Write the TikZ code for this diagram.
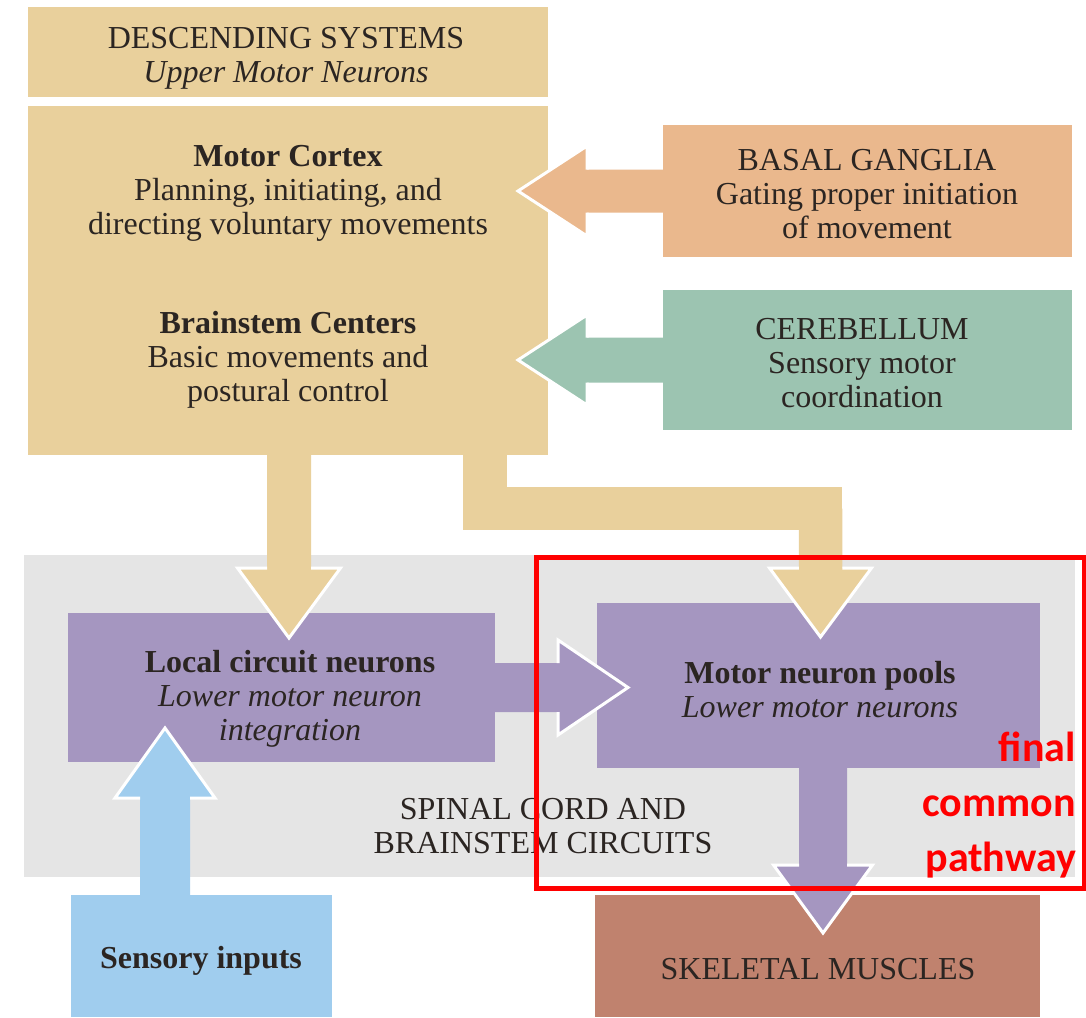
\documentclass[tikz,border=0pt]{standalone}
\usepackage{fontspec}
\setmainfont{Liberation Serif}
\newfontfamily\notefont{Carlito}
\usetikzlibrary{calc}

\definecolor{descfill}{HTML}{E9D09C}
\definecolor{basalfill}{HTML}{EAB88D}
\definecolor{cerebfill}{HTML}{9CC4B1}
\definecolor{spinalfill}{HTML}{E5E5E5}
\definecolor{neuronfill}{HTML}{A596C0}
\definecolor{sensefill}{HTML}{A0CDEE}
\definecolor{musclefill}{HTML}{C0826E}
\definecolor{ink}{HTML}{2B2522}
\definecolor{notered}{HTML}{FF0000}

% Broad block arrow from #1 (tail) to #2 (tip), colour #3,
% shaft half-width #4, head half-width #5, head length #6 (all in pt)
\newcommand\fatarrow[6]{%
  \path let \p1=(#1), \p2=(#2) in \pgfextra{%
    \pgfmathsetmacro\arrlen{veclen(\x2-\x1,\y2-\y1)}%
    \pgfmathsetmacro\arrang{atan2(\y2-\y1,\x2-\x1)}%
    \global\let\arrlen\arrlen\global\let\arrang\arrang};
  \begin{scope}[shift={(#1)}, rotate=\arrang, x=1pt, y=1pt]
    \fill[#3] (0,-#4) -- ({\arrlen-#6},-#4) -- ({\arrlen-#6},-#5) -- (\arrlen,0)
      -- ({\arrlen-#6},#5) -- ({\arrlen-#6},#4) -- (0,#4) -- cycle;
    \draw[arrowrim] ({\arrlen-#6},-#4) -- ({\arrlen-#6},-#5) -- (\arrlen,0)
      -- ({\arrlen-#6},#5) -- ({\arrlen-#6},#4);
  \end{scope}}

\tikzset{
  panel/.style={rectangle, inner sep=0pt, outer sep=0pt, draw=none},
  caption/.style={inner sep=0pt, outer sep=0pt, align=center, text=ink,
    font=\fontsize{32}{34}\selectfont},
  arrowrim/.style={draw=white, line width=3pt, line join=miter, line cap=butt},
}

\begin{document}
\begin{tikzpicture}[x=1pt, y=-1pt]
\useasboundingbox (0,0) rectangle (1086,1017);
\fill[white] (0,0) rectangle (1086,1017);

% spinal cord / brainstem region
\node[panel, fill=spinalfill, minimum width=1051pt, minimum height=322pt] (spinal) at (549.5,716) {};

% upper motor neuron blocks
\node[panel, fill=descfill, minimum width=520pt, minimum height=90pt] (desc) at (288,52) {};
\node[panel, fill=descfill, minimum width=520pt, minimum height=349pt] (brain) at (288,280.5) {};
\node[panel, fill=basalfill, minimum width=409pt, minimum height=132pt] (basal) at (867.5,191) {};
\node[panel, fill=cerebfill, minimum width=409pt, minimum height=140pt] (cereb) at (867.5,360) {};

% lower motor neuron blocks
\node[panel, fill=neuronfill, minimum width=427pt, minimum height=149pt] (local) at (281.5,687.5) {};
\node[panel, fill=neuronfill, minimum width=443pt, minimum height=165pt] (motor) at (818.5,685.5) {};

% inputs and effectors
\node[panel, fill=sensefill, minimum width=261pt, minimum height=122pt] (sensory) at (201.5,956) {};
\node[panel, fill=musclefill, minimum width=445pt, minimum height=122pt] (muscles) at (817.5,956) {};

% basal ganglia and cerebellum feed the descending systems
\coordinate (bgtip) at ($(basal.west -| brain.east)+(-30,0)$);
\fatarrow{basal.west}{bgtip}{basalfill}{21.5}{45}{69}
\coordinate (cbtip) at ($(cereb.west -| brain.east)+(-30,0)$);
\fatarrow{cereb.west}{cbtip}{cerebfill}{22.5}{45}{69}

% descending systems to local circuit neurons
\coordinate (dropA) at ($(brain.south)+(1,0)$);
\coordinate (dropAtip) at ($(dropA |- local.north)+(0,25)$);
\fatarrow{dropA}{dropAtip}{descfill}{22}{51.5}{70}

% descending systems to motor neuron pools (bent path)
\coordinate (dropB) at ($(brain.south)+(197,0)$);
\coordinate (kneeB) at ($(dropB)+(0,53.5)$);
\coordinate (bendB) at ($(kneeB)+(335.5,0)$);
\coordinate (dropBtip) at ($(bendB |- motor.north)+(0,34)$);
\draw[descfill, line width=43.5pt, line join=miter, line cap=butt]
  (dropB) -- (kneeB) -- (bendB) -- ($(bendB)!0.5!(dropBtip)$);
\fatarrow{bendB}{dropBtip}{descfill}{21.75}{51}{69}

% local circuit neurons to motor neuron pools
\coordinate (sideCtip) at ($(local.east -| motor.west)+(31,0)$);
\fatarrow{local.east}{sideCtip}{neuronfill}{24.5}{47.5}{70}

% motor neuron pools to skeletal muscles
\coordinate (dropD) at ($(motor.south)+(4.5,0)$);
\coordinate (dropDtip) at ($(dropD |- muscles.north)+(0,38)$);
\fatarrow{dropD}{dropDtip}{neuronfill}{24}{49.5}{68}

% sensory inputs to local circuit neurons
\coordinate (riseE) at ($(sensory.north)+(-36.5,0)$);
\coordinate (riseEtip) at ($(riseE |- local.south)+(0,-34)$);
\fatarrow{riseE}{riseEtip}{sensefill}{25}{50}{70}

% labels
\node[caption] (desctext) at (286,58) {DESCENDING SYSTEMS\\\textit{Upper Motor Neurons}};
\node[caption] (cortextext) at (288,193) {\textbf{Motor Cortex}\\Planning, initiating, and\\directing voluntary movements};
\node[caption] (stemtext) at (288,360) {\textbf{Brainstem Centers}\\Basic movements and\\postural control};
\node[caption] (basaltext) at (867,194) {BASAL GANGLIA\\Gating proper initiation\\of movement};
\node[caption] (cerebtext) at (862,363) {CEREBELLUM\\Sensory motor\\coordination};
\node[caption] (localtext) at (290,699) {\textbf{Local circuit neurons}\\\textit{Lower motor neuron}\\\textit{integration}};
\node[caption] (motortext) at (820,690) {\textbf{Motor neuron pools}\\\textit{Lower motor neurons}};
\node[caption] (spinaltext) at (543,826) {SPINAL CORD AND\\BRAINSTEM CIRCUITS};
\node[caption] (sensetext) at (201,961) {\textbf{Sensory inputs}};
\node[caption] (muscletext) at (818,969) {SKELETAL MUSCLES};

% final common pathway highlight
\node[rectangle, draw=notered, line width=5pt, inner sep=0pt,
  minimum width=548pt, minimum height=331pt] (pathway) at (810,722.5) {};
\node[anchor=east, align=right, inner sep=0pt, text=notered,
  font=\notefont\bfseries\fontsize{42}{55}\selectfont] (pathwaytext) at (1076,805)
  {final\\common\\pathway};
\end{tikzpicture}
\end{document}
